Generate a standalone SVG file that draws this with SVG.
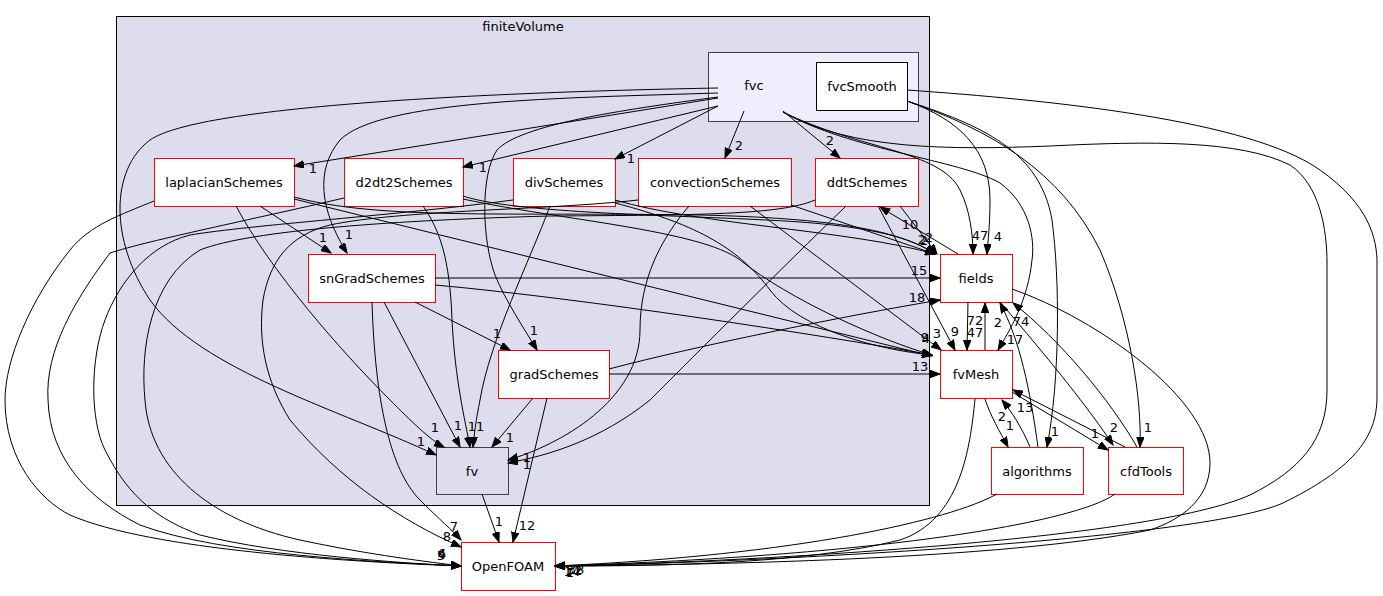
<svg xmlns="http://www.w3.org/2000/svg" width="1383" height="596" viewBox="0 0 1383 596">
<defs>
<marker id="ah" markerUnits="userSpaceOnUse" markerWidth="11" markerHeight="8" refX="10" refY="3.75" orient="auto">
<path d="M0,0 L10,3.75 L0,7.5 z" fill="#000" stroke="#000" stroke-width="1"/>
</marker>
</defs>
<style>
text{font-family:"DejaVu Sans","Liberation Sans",sans-serif;font-size:13px;fill:#000}
.node text,.cl{text-anchor:middle}
.red{fill:#fff;stroke:#ff0000;stroke-width:1}
.edges path{fill:none;stroke:#000;stroke-width:1;marker-end:url(#ah)}
.lbl text{text-anchor:middle}
</style>
<rect width="1383" height="596" fill="#fff"/>
<g id="cluster_finiteVolume">
<rect x="116.5" y="16.5" width="813" height="489" fill="#ddddee" stroke="#000"/>
<text class="cl" x="523" y="31">finiteVolume</text>
</g>
<g id="cluster_fvc">
<rect x="708.5" y="52.5" width="210" height="69" fill="#eeeeff" stroke="#404040"/>
<text class="cl" x="754" y="90">fvc</text>
</g>
<g id="fvcSmooth" class="node"><rect x="816.5" y="62.5" width="91" height="48" fill="#fff" stroke="#000"/><text x="862" y="91">fvcSmooth</text></g>
<g id="laplacianSchemes" class="node"><rect class="red" x="154.5" y="158.5" width="140" height="48"/><text x="224" y="187">laplacianSchemes</text></g>
<g id="d2dt2Schemes" class="node"><rect class="red" x="344.5" y="158.5" width="119" height="48"/><text x="404" y="187">d2dt2Schemes</text></g>
<g id="divSchemes" class="node"><rect class="red" x="513.5" y="158.5" width="102" height="48"/><text x="564" y="187">divSchemes</text></g>
<g id="convectionSchemes" class="node"><rect class="red" x="638.5" y="158.5" width="153" height="48"/><text x="715" y="187">convectionSchemes</text></g>
<g id="ddtSchemes" class="node"><rect class="red" x="815.5" y="158.5" width="103" height="48"/><text x="867" y="187">ddtSchemes</text></g>
<g id="snGradSchemes" class="node"><rect class="red" x="308.5" y="254.5" width="127" height="48"/><text x="372" y="283">snGradSchemes</text></g>
<g id="gradSchemes" class="node"><rect class="red" x="498.5" y="350.5" width="111" height="48"/><text x="554" y="379">gradSchemes</text></g>
<g id="fv" class="node"><rect x="436.5" y="447.5" width="72" height="47" fill="#ddddee" stroke="#404040"/><text x="472" y="476">fv</text></g>
<g id="OpenFOAM" class="node"><rect class="red" x="461.5" y="542.5" width="94" height="48"/><text x="508" y="571">OpenFOAM</text></g>
<g id="fields" class="node"><rect class="red" x="940.5" y="254.5" width="72" height="48"/><text x="976" y="283">fields</text></g>
<g id="fvMesh" class="node"><rect class="red" x="940.5" y="350.5" width="72" height="48"/><text x="976" y="379">fvMesh</text></g>
<g id="algorithms" class="node"><rect class="red" x="991.5" y="447.5" width="92" height="47"/><text x="1037" y="476">algorithms</text></g>
<g id="cfdTools" class="node"><rect class="red" x="1108.5" y="447.5" width="75" height="47"/><text x="1146" y="476">cfdTools</text></g>
<g id="connectors">
<g class="edges">
<!-- fvc -->
<path d="M718,98 L294,166"/>
<path d="M718,106 L463,167"/>
<path d="M718,106 L615,159"/>
<path d="M744,111 L725,158"/>
<path d="M783,111 L840,158"/>
<path d="M718,93 C560,98 380,100 340,140 C315,170 320,210 347,253"/>
<path d="M718,97 C620,110 520,125 497,150 C480,175 482,240 495,275 C505,300 525,330 537,350"/>
<path d="M718,88 C500,92 200,105 150,140 C110,170 110,240 150,300 C200,370 340,410 436,455"/>
<path d="M783,112 C860,150 940,150 960,190 C970,210 973,235 973,254"/>
<path d="M783,112 C850,150 960,160 1000,183 C1030,205 1035,240 1032,260 C1028,300 1010,330 998,350"/>
<path d="M783,112 C850,150 950,150 1050,146 C1150,141 1240,140 1290,165 C1320,185 1327,230 1327,263 L1327,390 C1327,440 1300,470 1250,495 C1150,540 750,562 555,566"/>
<!-- fvcSmooth -->
<path d="M907,90 C1050,100 1250,120 1320,170 C1370,205 1377,240 1377,263 L1377,397 C1377,440 1350,470 1283,503 C1200,540 750,563 555,566"/>
<path d="M907,101 C960,120 990,150 990,200 C990,225 988,240 987,254"/>
<path d="M907,101 C980,125 1040,150 1052,220 C1060,280 1060,380 1047,447"/>
<path d="M907,101 C990,130 1060,170 1100,250 C1130,320 1142,400 1140,447"/>
<!-- laplacianSchemes -->
<path d="M154,201 C120,215 90,225 70,250 C30,300 5,360 5,400 C5,460 40,500 70,515 C150,550 350,562 461,566"/>
<path d="M260,206 L331,253"/>
<path d="M236,206 C270,270 340,350 390,400 C410,420 430,440 444,447"/>
<path d="M294,197 C380,220 500,212 700,215 C830,218 900,230 935,254"/>
<path d="M294,199 L932,356"/>
<!-- d2dt2Schemes -->
<path d="M344,198 C250,220 150,240 110,253 C75,300 45,350 48,400 C50,460 90,500 140,525 C220,555 380,562 461,566"/>
<path d="M423,206 C440,230 450,260 452,320 C455,380 465,420 470,447"/>
<path d="M463,196 C520,215 700,215 800,222 C880,228 915,240 935,254"/>
<path d="M463,199 C560,220 700,230 740,260 C790,300 880,340 932,355"/>
<!-- divSchemes -->
<path d="M513,200 C400,215 250,225 190,235 C150,245 120,280 105,320 C90,360 90,420 105,450 C130,500 160,520 200,535 C280,555 400,563 461,566"/>
<path d="M550,206 C530,260 490,340 480,400 C476,420 474,435 473,447"/>
<path d="M615,200 C700,225 850,230 935,254"/>
<path d="M615,203 C700,225 740,250 770,290 C800,330 880,350 932,355"/>
<!-- convectionSchemes -->
<path d="M638,200 C550,210 400,210 330,225 C290,235 270,260 263,300 C258,340 265,380 290,420 C340,480 400,520 461,547"/>
<path d="M689,206 C660,240 640,280 640,330 C640,400 560,445 508,460"/>
<path d="M791,205 L935,254"/>
<path d="M750,206 L941,350"/>
<!-- ddtSchemes -->
<path d="M815,200 C780,215 700,215 550,216 C400,220 250,230 200,250 C150,280 140,350 145,400 C150,470 210,520 300,540 C370,555 430,562 461,566"/>
<path d="M846,206 C780,270 700,350 650,400 C600,440 550,455 508,463"/>
<path d="M900,206 L937,254"/>
<path d="M878,206 L955,350"/>
<!-- snGradSchemes -->
<path d="M435,278 L940,278"/>
<path d="M435,285 C600,300 850,340 932,355"/>
<path d="M415,302 L510,350"/>
<path d="M384,302 L460,447"/>
<path d="M372,302 C375,400 390,470 420,500 C440,520 452,530 461,540"/>
<!-- gradSchemes -->
<path d="M609,369 C700,345 850,315 940,300"/>
<path d="M609,374 L940,374"/>
<path d="M533,398 L492,447"/>
<path d="M547,398 L513,542"/>
<!-- fv -->
<path d="M482,494 L499,542"/>
<!-- fields -->
<path d="M958,254 L880,207"/>
<path d="M968,302 L967,350"/>
<path d="M1000,302 C1050,360 1090,410 1113,445"/>
<path d="M1012,289 C1100,320 1210,400 1210,463 C1210,500 1180,520 1150,530 C1000,560 700,565 555,566"/>
<!-- fvMesh -->
<path d="M985,350 L985,303"/>
<path d="M985,399 C990,415 1000,432 1008,447"/>
<path d="M1012,392 L1108,450"/>
<path d="M975,399 C970,450 960,520 900,540 C800,565 650,566 555,566"/>
<!-- algorithms -->
<path d="M1030,447 C1022,428 1012,412 1002,400"/>
<path d="M1038,447 C1030,390 1020,340 1000,303"/>
<path d="M997,494 C950,520 800,555 555,566"/>
<!-- cfdTools -->
<path d="M1125,447 L1013,390"/>
<path d="M1137,447 C1110,400 1060,340 1013,303"/>
<path d="M1115,494 C1080,520 900,555 555,566"/>
</g>
<g class="lbl">
<text x="313" y="173">1</text>
<text x="483" y="172">1</text>
<text x="631" y="163">1</text>
<text x="739" y="150">2</text>
<text x="830" y="145">2</text>
<text x="349" y="239">1</text>
<text x="534" y="335">1</text>
<text x="421" y="446">1</text>
<text x="980" y="240">47</text>
<text x="998" y="241">4</text>
<text x="1015" y="344">17</text>
<text x="1055" y="436">1</text>
<text x="1148" y="432">1</text>
<text x="323" y="242">1</text>
<text x="435" y="432">1</text>
<text x="476" y="431">11</text>
<text x="458" y="430">1</text>
<text x="497" y="338">1</text>
<text x="510" y="442">1</text>
<text x="527" y="462">1</text>
<text x="527" y="469">1</text>
<text x="527" y="530">12</text>
<text x="499" y="526">1</text>
<text x="454" y="531">7</text>
<text x="447" y="541">8</text>
<text x="442" y="559">4</text>
<text x="442" y="558">6</text>
<text x="441" y="560">5</text>
<text x="919" y="275">15</text>
<text x="917" y="302">18</text>
<text x="920" y="371">13</text>
<text x="922" y="244">2</text>
<text x="929" y="242">2</text>
<text x="924" y="245">2</text>
<text x="910" y="229">10</text>
<text x="937" y="338">3</text>
<text x="955" y="336">9</text>
<text x="925" y="342">9</text>
<text x="926" y="343">4</text>
<text x="975" y="325">72</text>
<text x="975" y="337">47</text>
<text x="998" y="327">2</text>
<text x="1021" y="326">74</text>
<text x="1002" y="421">2</text>
<text x="1010" y="430">1</text>
<text x="1095" y="438">1</text>
<text x="1114" y="432">2</text>
<text x="1025" y="412">13</text>
<text x="572" y="576">14</text>
<text x="574" y="575">32</text>
<text x="576" y="574">38</text>
<text x="570" y="577">1</text>
</g>
</g>
</svg>
